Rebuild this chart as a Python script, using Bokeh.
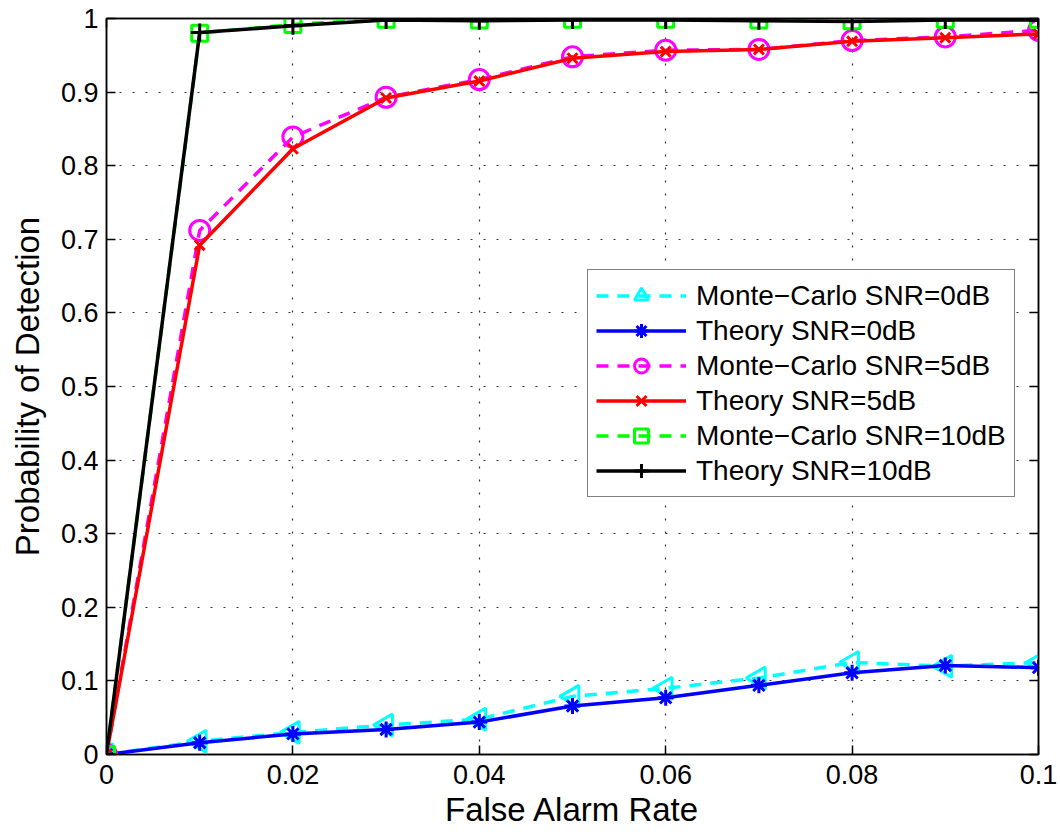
import numpy as np
from bokeh.plotting import figure
from bokeh.models import LinearAxis, FixedTicker, Range1d, Legend, LegendItem
from bokeh.embed import file_html
from bokeh.resources import INLINE

far = [0.0, 0.01, 0.02, 0.03, 0.04, 0.05, 0.06, 0.07, 0.08, 0.09, 0.10]
mc_0db = [0.0, 0.018, 0.030, 0.040, 0.048, 0.079, 0.090, 0.104, 0.125, 0.120, 0.125]
th_0db = [0.0, 0.016, 0.028, 0.034, 0.044, 0.066, 0.077, 0.094, 0.111, 0.121, 0.118]
mc_5db = [0.0, 0.712, 0.839, 0.893, 0.917, 0.948, 0.957, 0.958, 0.970, 0.975, 0.984]
th_5db = [0.0, 0.692, 0.823, 0.892, 0.915, 0.946, 0.955, 0.958, 0.969, 0.974, 0.979]
mc_10db = [0.0, 0.980, 0.992, 0.999, 0.998, 0.999, 0.999, 0.998, 0.997, 0.999, 0.999]
th_10db = [0.0, 0.981, 0.990, 0.998, 0.997, 0.998, 0.998, 0.997, 0.996, 0.998, 0.998]

x_ticks = [0, 0.02, 0.04, 0.06, 0.08, 0.1]
x_labels = ["0", "0.02", "0.04", "0.06", "0.08", "0.1"]
y_ticks = [0, 0.1, 0.2, 0.3, 0.4, 0.5, 0.6, 0.7, 0.8, 0.9, 1.0]
y_labels = ["0", "0.1", "0.2", "0.3", "0.4", "0.5", "0.6", "0.7", "0.8", "0.9", "1"]

FONT = "Liberation Sans"

p = figure(frame_width=932, frame_height=736, output_backend="svg",
           toolbar_location=None, x_range=Range1d(0, 0.1), y_range=Range1d(0, 1),
           min_border_left=106, min_border_right=22, min_border_top=18, min_border_bottom=80,
           background_fill_color="white", border_fill_color="white")
p.outline_line_color = "black"
p.outline_line_width = 1.5

p.xaxis.ticker = FixedTicker(ticks=x_ticks)
p.yaxis.ticker = FixedTicker(ticks=y_ticks)
p.xaxis.major_label_overrides = {t: l for t, l in zip(x_ticks, x_labels)}
p.yaxis.major_label_overrides = {t: l for t, l in zip(y_ticks, y_labels)}
for ax in (p.xaxis[0], p.yaxis[0]):
    ax.major_tick_in = 9
    ax.major_tick_out = 0
    ax.minor_tick_in = 0
    ax.minor_tick_out = 0
    ax.axis_line_color = "black"
    ax.axis_line_width = 1.5
    ax.major_tick_line_width = 1.5
    ax.major_label_text_font = FONT
    ax.major_label_text_font_size = "27px"
    ax.major_label_text_color = "black"
    ax.axis_label_text_font = FONT
    ax.axis_label_text_font_size = "33px"
    ax.axis_label_text_font_style = "normal"
    ax.axis_label_text_color = "black"
p.xaxis.axis_label = "False Alarm Rate"
p.yaxis.axis_label = "Probability of Detection"
p.xaxis.major_label_standoff = 10
p.yaxis.major_label_standoff = 8
p.xaxis.axis_label_standoff = 4
p.yaxis.axis_label_standoff = 12

# box ticks on top and right
for loc, tk in (("right", y_ticks), ("above", x_ticks)):
    a = LinearAxis(ticker=FixedTicker(ticks=tk), major_label_overrides={t: "" for t in tk},
                   major_tick_in=9, major_tick_out=0, minor_tick_in=0, minor_tick_out=0,
                   axis_line_color="black", axis_line_width=1.5, major_tick_line_width=1.5,
                   major_label_standoff=0)
    p.add_layout(a, loc)

p.xgrid.ticker = FixedTicker(ticks=x_ticks)
p.ygrid.ticker = FixedTicker(ticks=y_ticks)
for g in (p.xgrid[0], p.ygrid[0]):
    g.grid_line_color = "#333333"
    g.grid_line_dash = "2 11"
    g.grid_line_width = 1.2

items = []
def series(y, color, dash, marker, size, label, angle=0.0, lw=3.5):
    r1 = p.line(far, y, line_color=color, line_width=lw, line_dash=dash)
    r2 = p.scatter(far, y, marker=marker, size=size, line_color=color, fill_color=None,
                   line_width=3, angle=angle)
    items.append(LegendItem(label=label, renderers=[r1, r2]))

series(mc_0db, "#00FFFF", "12 9", "triangle", 22, "Monte\u2212Carlo SNR=0dB", angle=np.pi / 2)
series(th_0db, "#0000FF", "solid", "asterisk", 16, "Theory SNR=0dB")
series(mc_5db, "#FF00FF", "12 9", "circle", 20, "Monte\u2212Carlo SNR=5dB")
series(th_5db, "#FF0000", "solid", "x", 14, "Theory SNR=5dB")
series(mc_10db, "#00FF00", "12 9", "square", 16, "Monte\u2212Carlo SNR=10dB")
series(th_10db, "#000000", "solid", "cross", 18, "Theory SNR=10dB")

leg = Legend(items=items, location=(481, 257), label_text_font=FONT,
             label_text_font_size="28px", label_text_color="black",
             glyph_width=90, glyph_height=35, label_height=35, spacing=0, padding=8,
             margin=0, label_standoff=10, border_line_color="black", border_line_width=1.5,
             background_fill_alpha=1.0)
p.add_layout(leg, "center")

open("out.html", "w").write(file_html(p, INLINE))
